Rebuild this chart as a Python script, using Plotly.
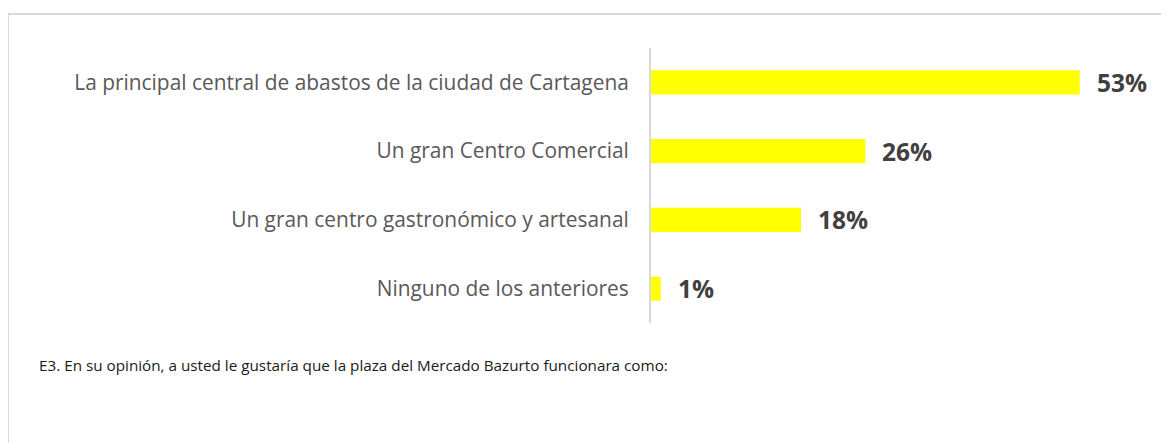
import plotly.graph_objects as go

# categorias y valores (%)
categorias = [
    "La principal central de abastos de la ciudad de Cartagena",
    "Un gran Centro Comercial",
    "Un gran centro gastronómico y artesanal",
    "Ninguno de los anteriores",
]
valores = [52.6, 26.3, 18.4, 1.2]
etiquetas = ["53%", "26%", "18%", "1%"]
nota = "E3. En su opinión, a usted le gustaría que la plaza del Mercado Bazurto funcionara como:"

# la pagina tiene 8px de margen en el body
OFF = 8
W, H = 1169 - OFF, 443 - OFF
ml, mr, mt, mb = 651 - OFF, 29, 48 - OFF, 120
pw, ph = W - ml - mr, H - mt - mb

def px_x(x):
    return (x - OFF - ml) / pw

def px_y(y):
    return (H - mb - (y - OFF)) / ph

fig = go.Figure()
fig.add_trace(go.Bar(
    x=valores, y=categorias, orientation="h",
    marker=dict(color="#ffff00", line=dict(width=0)),
    hoverinfo="skip",
))

for v, c, t in zip(valores, categorias, etiquetas):
    fig.add_annotation(x=v, y=c, text="<b>" + t + "</b>", showarrow=False,
                       xanchor="left", xshift=15,
                       font=dict(family="Open Sans", size=24.5, color="#404040"))

fig.add_annotation(xref="paper", yref="paper", x=px_x(37), y=px_y(365),
                   xanchor="left", yanchor="middle", text=nota, showarrow=False,
                   font=dict(family="Open Sans", size=15.25, color="#1a1a1a"))

# marco gris
fig.add_shape(type="rect", xref="paper", yref="paper",
              x0=px_x(8), x1=px_x(1200), y0=px_y(14), y1=px_y(470),
              line=dict(color="#d9d9d9", width=2), fillcolor="rgba(0,0,0,0)")

fig.update_layout(
    width=W, height=H,
    margin=dict(l=ml, r=mr, t=mt, b=mb),
    paper_bgcolor="white", plot_bgcolor="white",
    bargap=0.65, showlegend=False,
    xaxis=dict(visible=False, range=[0, 60], fixedrange=True),
    yaxis=dict(autorange="reversed", showline=True, linecolor="#d9d9d9", linewidth=2,
               showgrid=False, ticks="", ticklabelstandoff=16,
               tickfont=dict(family="Open Sans", size=20.9, color="#595959")),
)

fig.write_html("out.html")
